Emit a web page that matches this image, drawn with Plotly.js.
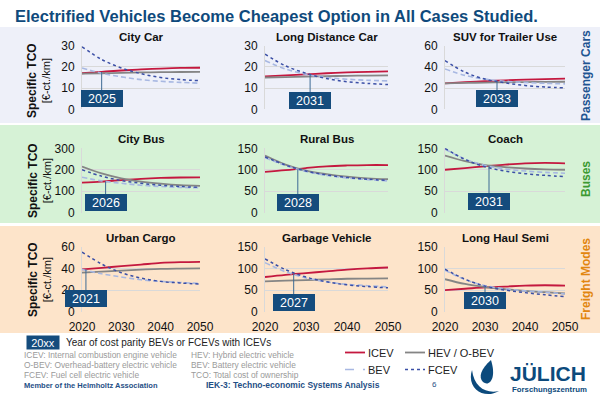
<!DOCTYPE html>
<html><head><meta charset="utf-8">
<script src="https://cdn.plot.ly/plotly-3.0.1.min.js"></script>
<style>html,body{margin:0;padding:0;background:#fff}#chart{width:600px;height:398px}</style>
</head><body><div id="chart"></div>
<script>
const years = [2020, 2025, 2030, 2035, 2040, 2045, 2050];
const panelTitles = ['City Car', 'Long Distance Car', 'SUV for Trailer Use', 'City Bus', 'Rural Bus', 'Coach', 'Urban Cargo', 'Garbage Vehicle', 'Long Haul Semi'];
const seriesNames = ['ICEV', 'HEV / O-BEV', 'BEV', 'FCEV'];
const icev = [
  [17, 17.7, 18.3, 18.8, 19.2, 19.5, 19.6],
  [15.5, 16, 16.5, 17, 17.4, 17.7, 17.9],
  [24.5, 25.5, 26.5, 27.3, 28, 28.5, 29],
  [140, 145, 152, 158, 162, 164, 165],
  [95, 99, 104, 108, 110, 111, 111],
  [100, 104, 108, 112, 115, 116, 115],
  [39, 40.5, 42, 43.5, 45, 45.7, 46],
  [80, 85, 89, 93, 97, 100, 102],
  [50, 53, 56, 58, 60, 61, 60]
];
const hev = [
  [16.8, 17, 17.2, 17.4, 17.5, 17.6, 17.7],
  [15, 15.2, 15.4, 15.6, 15.8, 15.9, 16],
  [24.5, 24.9, 25.2, 25.5, 25.7, 25.9, 26],
  [215, 183, 160, 145, 135, 128, 125],
  [133, 112, 98, 90, 84, 80, 78],
  [133, 120, 111, 106, 103, 101, 100],
  [36, 37, 38, 38.8, 39.5, 39.8, 40],
  [70, 71.5, 73, 74.5, 76, 76.5, 77],
  [75, 64, 57, 52, 48, 45, 42]
];
const bev = [
  [19.5, 17, 15.3, 14, 13.2, 12.7, 12.3],
  [23, 19, 16.5, 15, 14.2, 13.7, 13.4],
  [38, 32, 28.5, 26.5, 25.3, 24.5, 24],
  [165, 148, 137, 128, 122, 118, 116],
  [128, 110, 96, 87, 81, 77, 74],
  [148, 125, 110, 102, 97, 94, 92],
  [39, 35, 32, 29.5, 28, 27, 26],
  [113, 92, 78, 69, 63, 60, 57],
  [96, 74, 60, 53, 48, 45, 41]
];
const fcev = [
  [29.5, 23.5, 19.5, 16.8, 15, 14, 13.5],
  [26, 20.5, 17, 14.5, 13, 12.2, 11.7],
  [46, 35, 28.5, 25, 22.5, 21, 20.3],
  [200, 170, 150, 137, 128, 122, 118],
  [130, 111, 97, 88, 82, 78, 75],
  [150, 124, 107, 97, 91, 87, 84],
  [55, 44, 36, 31, 28, 26.5, 25.5],
  [122, 97, 80, 69, 62, 58, 55],
  [98, 75, 59, 50, 44, 39, 35]
];
const parityYears = [2025, 2031, 2033, 2026, 2028, 2031, 2021, 2027, 2030];
const parityValues = [17.6, 16.6, 27, 146, 101, 109, 39, 87, 56.5];
const yMax = [30, 30, 60, 300, 150, 150, 60, 150, 150];
const yStep = [10, 10, 20, 100, 50, 50, 20, 50, 50];
const xTicks = [2020, 2030, 2040, 2050];
const groupLabels = ['Passenger Cars', 'Buses', 'Freight Modes'];

const W = 600, H = 398;
const px = x => x / W, py = y => 1 - y / H;
const colDom = [[82, 200], [265, 388], [445, 565]];
const rowDom = [[45.7, 109.3], [148.3, 212.7], [246.7, 311.7]];
const boxY = [5, 4, 10, 48, 23, 25, 12, 22, 26];
const FONT = 'Arial, "Liberation Sans", sans-serif';
const NAVY = '#154c7d';
const styles = [
  {color: '#c4183f', width: 1.8, dash: 'solid'},
  {color: '#858585', width: 1.8, dash: 'solid'},
  {color: '#a8b8e2', width: 1.6, dash: '5px,3px'},
  {color: '#3b4fa6', width: 1.5, dash: 'dot'}
];
const allSeries = [icev, hev, bev, fcev];

const traces = [];
const layout = {
  width: W, height: H,
  margin: {l: 0, r: 0, t: 0, b: 0},
  paper_bgcolor: '#ffffff', plot_bgcolor: 'rgba(0,0,0,0)',
  font: {family: FONT, color: '#222', size: 12},
  title: {text: '<b>Electrified Vehicles Become Cheapest Option in All Cases Studied.</b>',
          x: px(15), xanchor: 'left', y: py(16), yanchor: 'middle',
          font: {family: FONT, size: 16.5, color: '#0f4a7c'}},
  showlegend: false,
  shapes: [], annotations: []
};

// Background bands
const bands = [[27, 123, '#eef0f9'], [125, 223, '#d6f2d6'], [226, 333, '#fde4ca']];
bands.forEach(b => layout.shapes.push({type: 'rect', xref: 'paper', yref: 'paper', x0: 0, x1: 1,
  y0: py(b[1]), y1: py(b[0]), fillcolor: b[2], line: {width: 0}, layer: 'below'}));

for (let i = 0; i < 9; i++) {
  const r = Math.floor(i / 3), c = i % 3;
  const sfx = i === 0 ? '' : String(i + 1);
  const xa = 'x' + sfx, ya = 'y' + sfx;
  layout['xaxis' + sfx] = {
    domain: [px(colDom[c][0]), px(colDom[c][1])], anchor: ya,
    range: [2020, 2050], showgrid: false, zeroline: false, showline: false,
    tickvals: xTicks, showticklabels: r === 2, ticks: r === 2 ? 'outside' : '',
    ticklen: 4, tickcolor: 'rgba(0,0,0,0)', tickfont: {size: 12, color: '#111'}, fixedrange: true
  };
  layout['yaxis' + sfx] = {
    domain: [py(rowDom[r][1]), py(rowDom[r][0])], anchor: xa,
    range: [0, yMax[i]], dtick: yStep[i], showgrid: true, gridcolor: '#d9d9d9', gridwidth: 1,
    zeroline: false, showline: true, linecolor: '#d9d9d9', linewidth: 1,
    ticks: 'outside', ticklen: 4, tickcolor: 'rgba(0,0,0,0)',
    tickfont: {size: 12, color: '#111'}, fixedrange: true
  };
  allSeries.forEach((s, k) => {
    traces.push({
      type: 'scatter', mode: 'lines', x: years, y: s[i], xaxis: xa, yaxis: ya,
      name: seriesNames[k], legendgroup: seriesNames[k], showlegend: false,
      line: {color: styles[k].color, width: styles[k].width, dash: styles[k].dash, shape: 'spline', smoothing: 1},
      hoverinfo: 'x+y+name'
    });
  });
  // panel title
  layout.annotations.push({xref: 'paper', yref: 'paper',
    x: px((colDom[c][0] + colDom[c][1]) / 2), y: py(rowDom[r][0] - 1), xanchor: 'center', yanchor: 'bottom',
    text: '<b>' + panelTitles[i] + '</b>', showarrow: false, font: {size: 11.5, color: '#111'}});
  // parity connector + box
  layout.shapes.push({type: 'line', xref: xa, yref: ya, x0: parityYears[i], x1: parityYears[i],
    y0: parityValues[i], y1: boxY[i], line: {color: '#3d6a94', width: 1}});
  layout.annotations.push({xref: xa, yref: ya, x: parityYears[i], y: boxY[i],
    text: String(parityYears[i]), showarrow: false, bgcolor: NAVY, bordercolor: NAVY, borderwidth: 1,
    borderpad: 1, width: 38, height: 13, font: {size: 12.5, color: '#ffffff'}});
}

// Legend (drawn as key lines + labels)
const legendPos = [[345, 352.5], [405, 352.5], [345, 369.5], [405, 369.5]];
const legendDash = ['solid', 'solid', 'dash', 'dot'];
seriesNames.forEach((n, k) => {
  const [lx, ly] = legendPos[k];
  layout.shapes.push({type: 'line', xref: 'paper', yref: 'paper', x0: px(lx), x1: px(lx + 20), y0: py(ly), y1: py(ly),
    line: {color: styles[k].color, width: styles[k].width, dash: legendDash[k]}});
  layout.annotations.push({xref: 'paper', yref: 'paper', x: px(lx + 21), y: py(ly), xanchor: 'left', yanchor: 'middle',
    text: n, showarrow: false, font: {size: 11, color: '#222'}});
});

// Y axis labels for each row
[81, 181, 280].forEach(yc => layout.annotations.push({xref: 'paper', yref: 'paper', x: px(39), y: py(yc),
  xanchor: 'center', yanchor: 'middle', textangle: -90, showarrow: false,
  text: '<b><span style="font-size:12px">Specific TCO</span></b><br><span style="font-size:11px">[€-ct./km]</span>',
  font: {size: 11, color: '#111'}}));

// Group labels on right
const groupColors = ['#1f5592', '#3c9a32', '#e2860f'];
const groupY = [76, 179, 279];
groupLabels.forEach((g, k) => layout.annotations.push({xref: 'paper', yref: 'paper', x: px(586), y: py(groupY[k]),
  xanchor: 'center', yanchor: 'middle', textangle: -90, showarrow: false,
  text: '<b>' + g + '</b>', font: {size: 12, color: groupColors[k]}}));

// Footer
layout.annotations.push({xref: 'paper', yref: 'paper', x: px(43), y: py(342), xanchor: 'center', yanchor: 'middle',
  text: '20xx', showarrow: false, bgcolor: NAVY, borderpad: 1, width: 30, height: 11, font: {size: 11, color: '#fff'}});
layout.annotations.push({xref: 'paper', yref: 'paper', x: px(64), y: py(342), xanchor: 'left', yanchor: 'middle',
  text: 'Year of cost parity BEVs or FCEVs with ICEVs', showarrow: false, font: {size: 10, color: '#222'}});
const notesL = ['ICEV: Internal combustion engine vehicle', 'O-BEV: Overhead-battery electric vehicle', 'FCEV: Fuel cell electric vehicle'];
const notesR = ['HEV: Hybrid electric vehicle', 'BEV: Battery electric vehicle', 'TCO: Total cost of ownership'];
[355, 365, 374.5].forEach((yy, k) => {
  layout.annotations.push({xref: 'paper', yref: 'paper', x: px(22), y: py(yy), xanchor: 'left', yanchor: 'middle',
    text: notesL[k], showarrow: false, font: {size: 8.4, color: '#9a9a9a'}});
  layout.annotations.push({xref: 'paper', yref: 'paper', x: px(189), y: py(yy), xanchor: 'left', yanchor: 'middle',
    text: notesR[k], showarrow: false, font: {size: 8.4, color: '#9a9a9a'}});
});
layout.annotations.push({xref: 'paper', yref: 'paper', x: px(22), y: py(385), xanchor: 'left', yanchor: 'middle',
  text: '<b>Member of the Helmholtz Association</b>', showarrow: false, font: {size: 7.5, color: '#1f4f86'}});
layout.annotations.push({xref: 'paper', yref: 'paper', x: px(204), y: py(385), xanchor: 'left', yanchor: 'middle',
  text: '<b>IEK-3: Techno-economic Systems Analysis</b>', showarrow: false, font: {size: 8.5, color: '#1f4f86'}});
layout.annotations.push({xref: 'paper', yref: 'paper', x: px(434), y: py(384), xanchor: 'center', yanchor: 'middle',
  text: '6', showarrow: false, font: {size: 8, color: '#1f4f86'}});
// Logo
layout.annotations.push({xref: 'paper', yref: 'paper', x: px(508), y: py(373), xanchor: 'left', yanchor: 'middle',
  text: '<b>JÜLICH</b>', showarrow: false, font: {size: 21, color: '#0c4a7c'}});
layout.annotations.push({xref: 'paper', yref: 'paper', x: px(510), y: py(389), xanchor: 'left', yanchor: 'middle',
  text: '<b>Forschungszentrum</b>', showarrow: false, font: {size: 7.8, color: '#0c4a7c'}});
function pathPx(cmds) {
  return cmds.map(c => typeof c === 'string' ? c : (px(c[0]).toFixed(4) + ',' + py(c[1]).toFixed(4))).join(' ');
}
layout.shapes.push({type: 'path', xref: 'paper', yref: 'paper', fillcolor: '#0c4a7c', line: {width: 0},
  path: pathPx(['M', [491, 360], 'C', [481, 369], [478, 377], [483, 382], 'C', [489, 387], [497, 379], [491, 360], 'Z'])});
layout.shapes.push({type: 'path', xref: 'paper', yref: 'paper', fillcolor: '#0c4a7c', line: {width: 0},
  path: pathPx(['M', [472, 370], 'C', [466, 388], [484, 400], [499, 391], 'C', [486, 394], [474, 387], [472, 370], 'Z'])});

Plotly.newPlot('chart', traces, layout, {displayModeBar: false, staticPlot: true});
</script></body></html>
